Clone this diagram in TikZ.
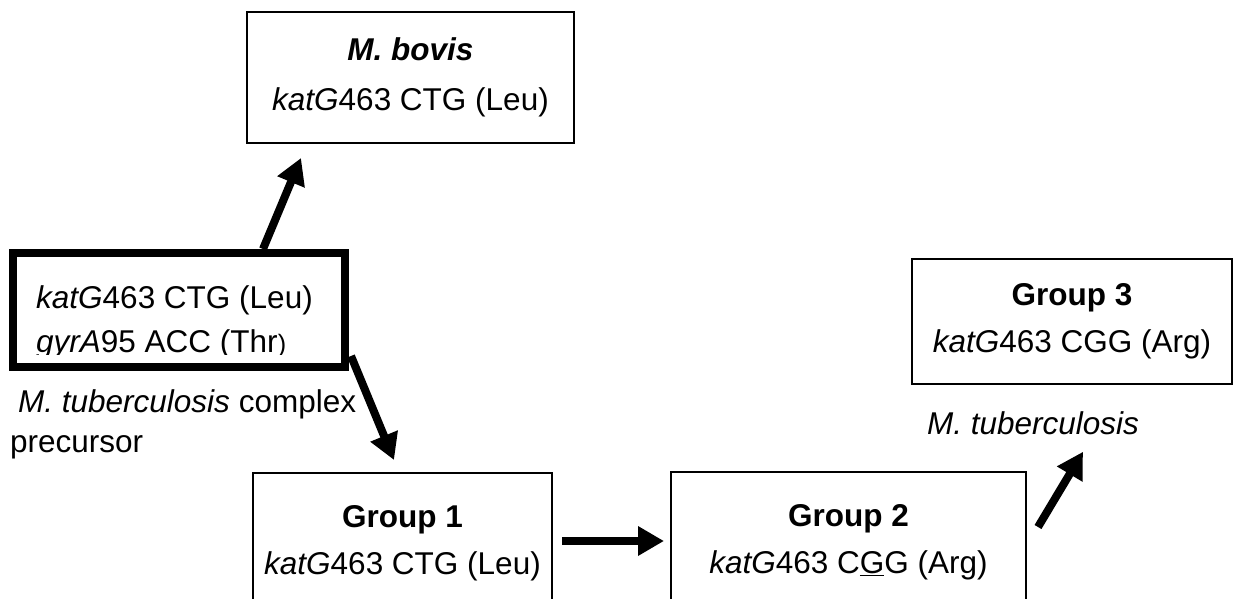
\documentclass[tikz,border=0pt]{standalone}
\usepackage{fontspec}
\setmainfont{Liberation Sans}
\usetikzlibrary{arrows.meta,calc}
\newcommand\fsz{\fontsize{31.5}{47}\selectfont}
\begin{document}
\begin{tikzpicture}[x=1pt,y=-1pt,
  box/.style={draw,line width=2pt,rectangle,inner sep=0pt,align=center,font=\fsz},
  lbl/.style={inner sep=0pt,font=\fsz},
  arr/.style={line width=8pt,-{Triangle[length=26pt,width=28pt]}}]
\clip (0,0) rectangle (1233,599);
\fill[white] (0,0) rectangle (1233,599);
% boxes
\node[box,minimum width=327,minimum height=131] (bovis) at (410.5,77.5)
  {\textbf{\textit{M. bovis}}\\[3pt]\textit{katG}463 CTG (Leu)};
\node[box,minimum width=320,minimum height=125] (g3) at (1072,321.5)
  {\textbf{Group 3}\\\textit{katG}463 CGG (Arg)};
\node[box,minimum width=299,minimum height=140] (g1) at (402.5,543)
  {\textbf{Group 1}\\\textit{katG}463 CTG (Leu)};
\node[box,minimum width=355,minimum height=140] (g2) at (848.5,542)
  {\textbf{Group 2}\\\textit{katG}463 C\underline{G}G (Arg)};
% precursor box
\begin{scope}
  \clip (17,257) rectangle (341,354);
  \node[lbl,anchor=base west] (p1) at (36,308) {\textit{katG}463 CTG (Leu)};
  \node[lbl,anchor=base west] (p2) at (36,352.5) {\textit{gyrA}95 ACC (Thr\scalebox{0.8}{)}};
\end{scope}
\node[draw,line width=8pt,minimum width=332,minimum height=114,inner sep=0pt] (pre) at (179,310) {};
% labels
\node[lbl,anchor=base west] (mtc) at (18,412) {\textit{M. tuberculosis} complex};
\node[lbl,anchor=base west] (prec) at (10,452) {precursor};
\node[lbl] (mtb) at (1033,423) {\textit{M. tuberculosis}};
% arrows
\coordinate (a1s) at ($(pre.north west)+(254,0)$);
\coordinate (a1e) at ($(bovis.south west)+(55,14)$);
\draw[arr] (a1s) -- (a1e);
\coordinate (a2s) at ($(pre.south east)+(2,-15)$);
\coordinate (a2e) at ($(g1.north west)+(142,-12)$);
\draw[arr] (a2s) -- (a2e);
\draw[arr] ([xshift=9pt]g1.east |- 0,541) -- ([xshift=-6pt]g2.west |- 0,541);
\coordinate (a4s) at ($(g2.north east)+(11,56)$);
\coordinate (a4e) at ($(mtb.south)+(50,17)$);
\draw[arr] (a4s) -- (a4e);
\end{tikzpicture}
\end{document}
